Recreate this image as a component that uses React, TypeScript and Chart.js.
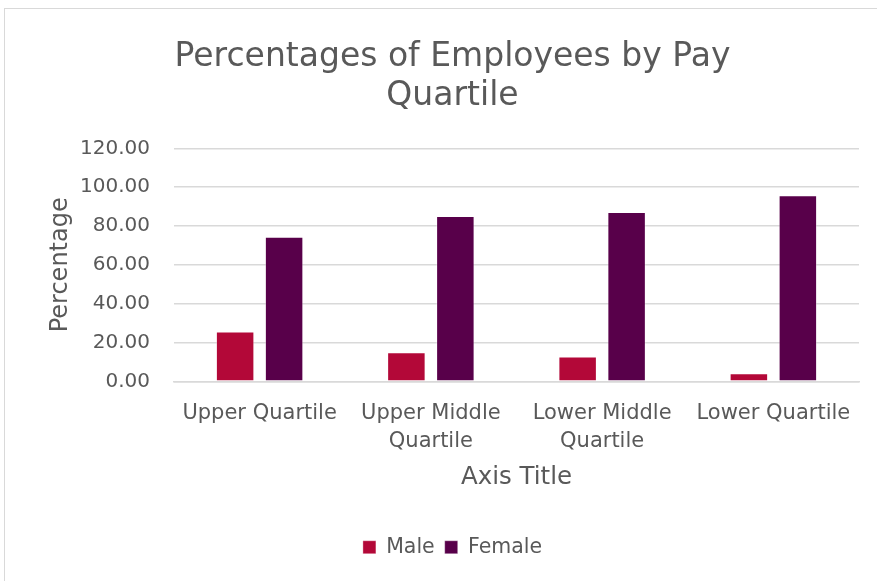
import React, { useEffect, useRef } from "react";
import { Chart, registerables } from "chart.js";

Chart.register(...registerables);

const categories: (string | string[])[] = [
  "Upper Quartile",
  ["Upper Middle", "Quartile"],
  ["Lower Middle", "Quartile"],
  "Lower Quartile",
];
const maleValues = [25.6, 14.9, 12.8, 4.2];
const femaleValues = [74.4, 85.1, 87.2, 95.8];
const titleLines = ["Percentages of Employees by Pay", "Quartile"];
const yAxisTitle = "Percentage";
const xAxisTitle = "Axis Title";

const FONT = "'DejaVu Sans', sans-serif";
const TEXT = "#595959";
const GRID = "#d9d9d9";

export default function App() {
  const ref = useRef<HTMLCanvasElement | null>(null);

  useEffect(() => {
    if (!ref.current) return;
    const chart = new Chart(ref.current, {
      type: "bar",
      data: {
        labels: categories,
        datasets: [
          {
            label: "Male",
            data: maleValues,
            backgroundColor: "#b30838",
            borderColor: "rgba(255,255,255,0.35)",
            borderWidth: 1,
            categoryPercentage: 0.572,
            barPercentage: 0.786,
          },
          {
            label: "Female",
            data: femaleValues,
            backgroundColor: "#58004a",
            borderColor: "rgba(255,255,255,0.35)",
            borderWidth: 1,
            categoryPercentage: 0.572,
            barPercentage: 0.786,
          },
        ],
      },
      options: {
        animation: false,
        responsive: false,
        maintainAspectRatio: false,
        layout: { padding: { left: 9, right: 0, top: 0, bottom: 13.5 } },
        plugins: {
          title: {
            display: true,
            text: titleLines,
            color: TEXT,
            font: { family: FONT, size: 33, weight: "normal", lineHeight: 39 / 33 },
            padding: { top: 28.5, bottom: 32.8 },
          },
          legend: {
            display: true,
            position: "bottom",
            labels: {
              color: TEXT,
              font: { family: FONT, size: 20.5 },
              boxWidth: 13,
              boxHeight: 13,
              padding: 10,
            },
          },
          tooltip: { enabled: false },
        },
        scales: {
          x: {
            grid: { display: false, drawTicks: false },
            border: { display: true, color: GRID, width: 1.5 },
            ticks: {
              color: TEXT,
              font: { family: FONT, size: 21, lineHeight: 28 / 21 },
              padding: 18,
              maxRotation: 0,
              autoSkip: false,
            },
            title: {
              display: true,
              text: xAxisTitle,
              color: TEXT,
              font: { family: FONT, size: 24.5, lineHeight: 1.2 },
              padding: { top: 0, bottom: 34.5 },
            },
            afterFit: (scale: any) => {
              scale.height = 145.7;
            },
          },
          y: {
            min: 0,
            max: 120,
            grid: { color: GRID, lineWidth: 1.5, drawTicks: false },
            border: { display: false },
            ticks: {
              stepSize: 20,
              color: TEXT,
              font: { family: FONT, size: 20 },
              padding: 24,
              callback: (v: any) => Number(v).toFixed(2),
            },
            title: {
              display: true,
              text: yAxisTitle,
              color: TEXT,
              font: { family: FONT, size: 24, lineHeight: 1.2 },
              padding: { top: 32, bottom: 0 },
            },
            afterFit: (scale: any) => {
              scale.width = 160;
            },
          },
          yRight: {
            type: "linear",
            position: "right",
            display: true,
            grid: { display: false, drawTicks: false },
            border: { display: false },
            ticks: { display: false },
            afterFit: (scale: any) => {
              scale.width = 32;
            },
          },
        },
      },
    });
    return () => chart.destroy();
  }, []);

  return (
    <div
      style={{
        position: "absolute",
        left: 4,
        top: 8,
        width: 872,
        height: 572,
        borderLeft: "1px solid #d9d9d9",
        borderTop: "1px solid #d9d9d9",
        overflow: "hidden",
        background: "#fff",
      }}
    >
      <canvas ref={ref} width={886} height={572} style={{ display: "block", width: 886, height: 572 }} />
    </div>
  );
}
